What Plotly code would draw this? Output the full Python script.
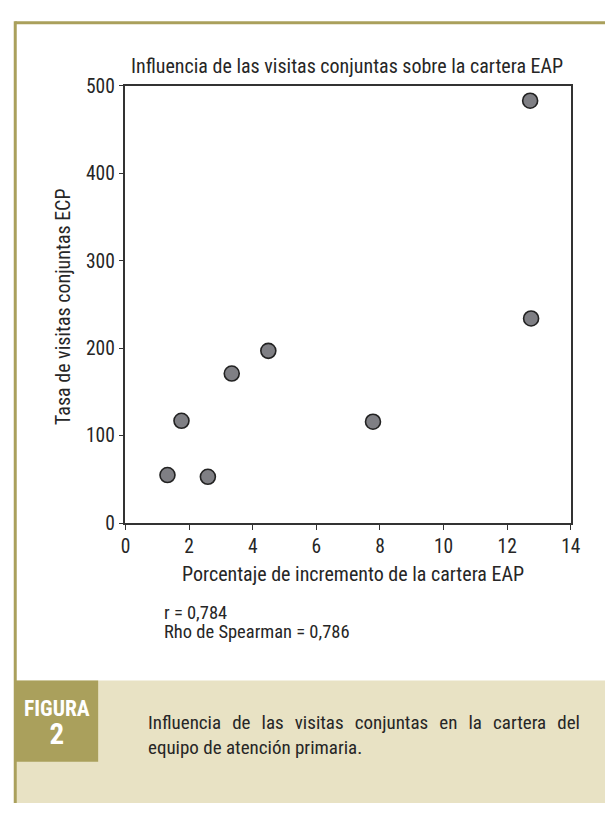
import plotly.graph_objects as go

# Data: percentage increase in the EAP portfolio vs. rate of joint ECP visits
pct_increase = [1.32, 1.76, 2.59, 3.34, 4.49, 7.78, 12.72, 12.75]
joint_visit_rate = [55, 117, 53, 171, 197, 116, 483, 234]

x_ticks = [0, 2, 4, 6, 8, 10, 12, 14]
y_ticks = [0, 100, 200, 300, 400, 500]

pearson_r = "0,784"
spearman_rho = "0,786"

W, H = 615, 815
FONT = "Roboto Condensed, Liberation Sans Narrow, sans-serif"
TEXT = "#262626"
OLIVE = "#aaa05c"
BEIGE = "#e8e2c4"

# widened word gap used to set the first caption line flush right (justified)
GAP = " \u2006\u2009"


def px(x):
    return x / W


def py(y):
    return 1 - y / H


fig = go.Figure()
fig.add_trace(go.Scatter(
    x=pct_increase, y=joint_visit_rate, mode="markers",
    marker=dict(size=15, color="#7f7f84", line=dict(color="#222222", width=1.6)),
    cliponaxis=False, showlegend=False, hoverinfo="x+y",
))

axis_common = dict(
    showline=True, linecolor="#333333", linewidth=1.5, mirror=True,
    ticks="outside", ticklen=5, tickwidth=1.3, tickcolor="#333333",
    showgrid=False, zeroline=False,
    tickfont=dict(family=FONT, size=19.5, color=TEXT),
)

caption_line1 = GAP.join("Influencia de las visitas conjuntas en la cartera del".split(" "))
caption_line2 = "equipo de atención primaria."

stats_text = (
    f'<span style="font-size:18.5px">r = {pearson_r}</span><br>'
    f'<span style="font-size:18.5px">Rho de Spearman = {spearman_rho}</span>'
)

fig.update_layout(
    width=W, height=H,
    margin=dict(l=0, r=0, t=0, b=0),
    paper_bgcolor="white", plot_bgcolor="white",
    xaxis=dict(range=[0, 14], tickvals=x_ticks, domain=[px(123.5), px(580)],
               **axis_common),
    yaxis=dict(range=[0, 500], tickvals=y_ticks, domain=[py(527), py(77)],
               **axis_common),
    shapes=[
        # caption band and figure number block
        dict(type="rect", xref="paper", yref="paper", x0=px(10), x1=1.0,
             y0=0, y1=py(689), fillcolor=BEIGE, line=dict(width=0), layer="below"),
        dict(type="rect", xref="paper", yref="paper", x0=px(10), x1=px(95.5),
             y0=py(772.5), y1=py(689), fillcolor=OLIVE, line=dict(width=0), layer="below"),
        # frame lines (top and left)
        dict(type="line", xref="paper", yref="paper", x0=px(10.5), x1=1.0,
             y0=py(12), y1=py(12), line=dict(color=OLIVE, width=3)),
        dict(type="line", xref="paper", yref="paper", x0=px(10.5), x1=px(10.5),
             y0=0, y1=py(10.5), line=dict(color=OLIVE, width=3)),
    ],
    annotations=[
        dict(text="Influencia de las visitas conjuntas sobre la cartera EAP",
             xref="paper", yref="paper", x=px(351), y=py(57), showarrow=False,
             xanchor="center", yanchor="middle",
             font=dict(family=FONT, size=20, color=TEXT)),
        dict(text="Tasa de visitas conjuntas ECP", textangle=-90,
             xref="paper", yref="paper", x=px(60), y=py(304), showarrow=False,
             xanchor="center", yanchor="middle",
             font=dict(family=FONT, size=20, color=TEXT)),
        dict(text="Porcentaje de incremento de la cartera EAP",
             xref="paper", yref="paper", x=px(357), y=py(579), showarrow=False,
             xanchor="center", yanchor="middle",
             font=dict(family=FONT, size=20, color=TEXT)),
        # statistics block, tight leading
        dict(text=stats_text, align="left",
             xref="paper", yref="paper", x=px(161), y=py(629), showarrow=False,
             xanchor="left", yanchor="middle",
             font=dict(family=FONT, size=14.5, color=TEXT)),
        # figure number label
        dict(text='FIGURA<br><span style="font-size:29px">2</span>', align="center",
             xref="paper", yref="paper", x=px(53), y=py(733),
             showarrow=False, xanchor="center", yanchor="middle",
             font=dict(family=FONT, size=21.5, color="white", weight="bold")),
        dict(text=caption_line1 + "<br>" + caption_line2,
             align="left", xref="paper", yref="paper", x=px(145), y=py(745.5),
             showarrow=False, xanchor="left", yanchor="middle",
             font=dict(family=FONT, size=19, color=TEXT)),
    ],
)

page_reset = "document.body.style.margin='0';"
fig.write_html("out.html", post_script=page_reset,
               config={"displayModeBar": False})
